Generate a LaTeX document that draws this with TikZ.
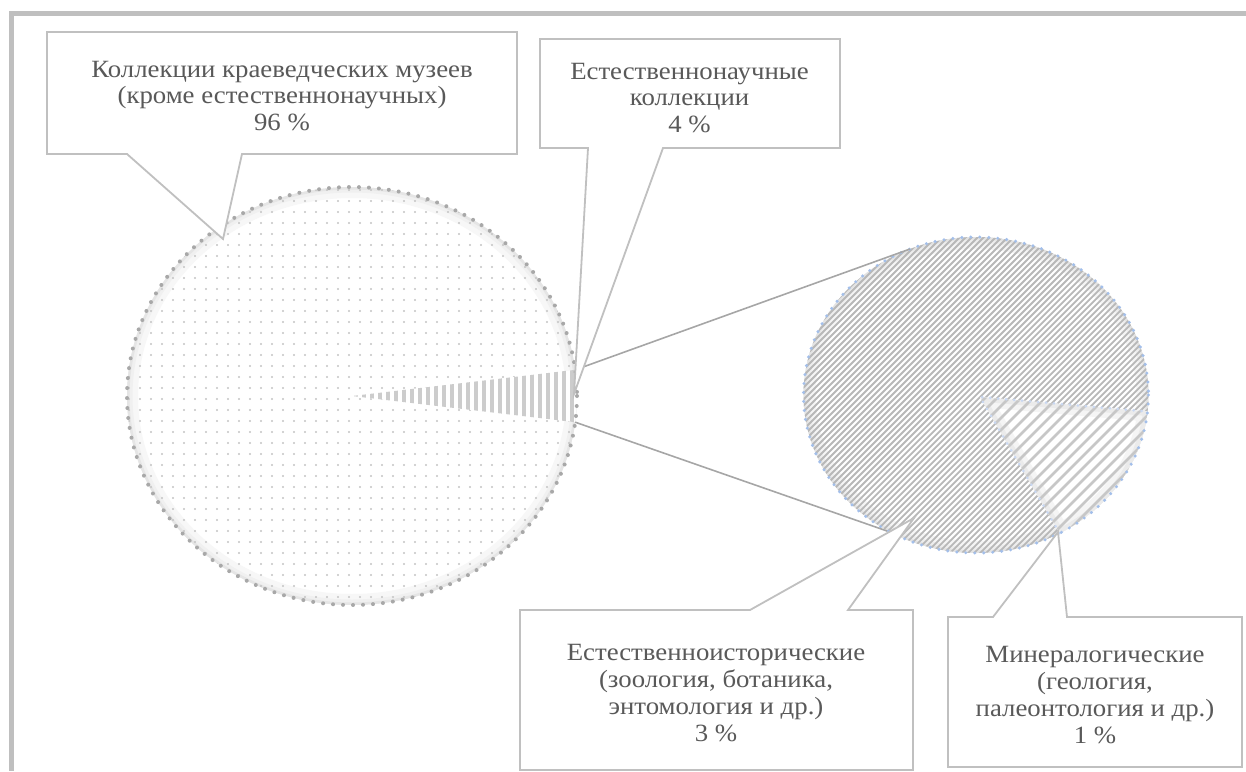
\documentclass[tikz,border=0pt]{standalone}
\usepackage{fontspec}
\setmainfont{Liberation Serif}[FakeStretch=1.08]
\usetikzlibrary{calc}

\definecolor{framegray}{HTML}{BFBFBF}
\definecolor{boxline}{HTML}{C0C0C0}
\definecolor{joinline}{HTML}{A6A6A6}
\definecolor{txt}{HTML}{595959}
\definecolor{rimgray}{HTML}{A8A8A8}
\definecolor{rimblue}{HTML}{A3BFEA}
\definecolor{paleblue}{HTML}{C9D8F2}
\definecolor{dotgray}{HTML}{C4C4C4}
\definecolor{hatchgray}{HTML}{B8B8B8}

\begin{document}
\begin{tikzpicture}[x=1pt,y=-1pt,
	lbl/.style={align=center,text=txt,font=\fontsize{24.8}{26.7}\selectfont,inner sep=0pt},
	callout/.style={draw=boxline,line width=1.8pt,fill=white,line join=miter},
	joiner/.style={draw=joinline,line width=1.6pt},
	rimdots/.style={line width=4pt,line cap=round,dash pattern=on 0pt off 10pt}]
	\useasboundingbox (0,0) rectangle (1246,771);
	\draw[framegray,line width=5pt] (1246,13.5) -- (11.5,13.5) -- (11.5,771);
	
	% main pie
	\coordinate (L) at (352,396);
	\path (L) ++(-7.2:225 and 209) coordinate (sliceN)
	      (L) ++(7.2:225 and 209) coordinate (sliceS);
	\begin{scope}
		\clip (L) ellipse [x radius=225,y radius=209];
		\fill[white] (L) ellipse [x radius=225,y radius=209];
		\foreach \w/\c in {22/3,11/6,5/10}
			\draw[black!\c,line width=\w pt] (L) ellipse [x radius=225,y radius=209];
		\foreach \i in {0,...,41}
			\foreach \j in {0,...,38}
				\fill[dotgray] (129+\i*11,190+\j*11) circle (1.1pt);
	\end{scope}
	\fill[white] (L) -- (sliceN) arc[start angle=-7.2,end angle=7.2,x radius=225,y radius=209] -- cycle;
	\begin{scope}
		\clip (L) -- (sliceN) arc[start angle=-7.2,end angle=7.2,x radius=225,y radius=209] -- cycle;
		\foreach \x in {356,364,...,580}
			\draw[black!20,line width=3.6pt] (\x,360) -- (\x,432);
	\end{scope}
	\draw[rimdots,rimgray] (L) ellipse [x radius=225,y radius=209];
	
	% second pie
	\coordinate (R) at (976,395);
	\coordinate (V) at (980,397);
	\path (R) ++(6:172.5 and 158) coordinate (subE)
	      (R) ++(61:172.5 and 158) coordinate (subB);
	\begin{scope}
		\clip (R) ellipse [x radius=172.5,y radius=158];
		\fill[white] (R) ellipse [x radius=172.5,y radius=158];
		\foreach \w/\c in {24/4,12/7,5/11}
			\draw[black!\c,line width=\w pt] (R) ellipse [x radius=172.5,y radius=158];
		\begin{scope}[shift={(R)}]
			\foreach \k in {-42,...,42}
				\draw[hatchgray,line width=1.8pt] (\k*6-250,250) -- (\k*6+250,-250);
		\end{scope}
	\end{scope}
	\fill[white] (V) -- (subE) arc[start angle=6,end angle=61,x radius=172.5,y radius=158] -- cycle;
	\begin{scope}
		\clip (V) -- (subE) arc[start angle=6,end angle=61,x radius=172.5,y radius=158] -- cycle;
		\foreach \w/\c in {20/4,9/8}
			\draw[black!\c,line width=\w pt] (V) -- (subE) arc[start angle=6,end angle=61,x radius=172.5,y radius=158] -- cycle;
		\begin{scope}[shift={(R)}]
			\foreach \k in {-21,...,21}
				\draw[black!22,line width=2.6pt] (\k*12-250,250) -- (\k*12+250,-250);
		\end{scope}
	\end{scope}
	\draw[rimdots,paleblue,line width=3pt,dash pattern=on 0pt off 8pt] (subB) -- (V) -- (subE);
	\draw[rimdots,rimblue,line width=3.4pt,dash pattern=on 0pt off 9pt] (R) ellipse [x radius=172.5,y radius=158];
	
	% joining lines
	\coordinate (subN) at (910,249);
	\coordinate (subS) at (887,531);
	\draw[joiner] (sliceN) -- (subN);
	\draw[joiner] (sliceS) -- (subS);
	
	% callouts
	\coordinate (kraevedtip) at (223,239);
	\coordinate (estnauchtip) at (574,394);
	\coordinate (esthisttip) at (914,518);
	\coordinate (mineraltip) at (1058,532);
	\draw[callout] (47,32) -- (517,32) -- (517,154) -- (242,154) -- (kraevedtip) -- (127,154) -- (47,154) -- cycle;
	\draw[callout] (540,39) -- (840,39) -- (840,148) -- (663,148) -- (estnauchtip) -- (588,148) -- (540,148) -- cycle;
	\draw[callout] (520,610) -- (750,610) -- (esthisttip) -- (848,610) -- (913,610) -- (913,770) -- (520,770) -- cycle;
	\draw[callout] (948,617) -- (993,617) -- (mineraltip) -- (1067,617) -- (1242,617) -- (1242,767) -- (948,767) -- cycle;
	
	\node[lbl] (kraeved) at (282,96) {Коллекции краеведческих музеев\\(кроме естественнонаучных)\\96~\%};
	\node[lbl] (estnauch) at (689.5,98) {Естественнонаучные\\коллекции\\4~\%};
	\node[lbl] (esthist) at (716,693) {Естественноисторические\\(зоология, ботаника,\\энтомология и др.)\\3~\%};
	\node[lbl] (mineral) at (1095,695) {Минералогические\\(геология,\\палеонтология и др.)\\1~\%};
\end{tikzpicture}
\end{document}
